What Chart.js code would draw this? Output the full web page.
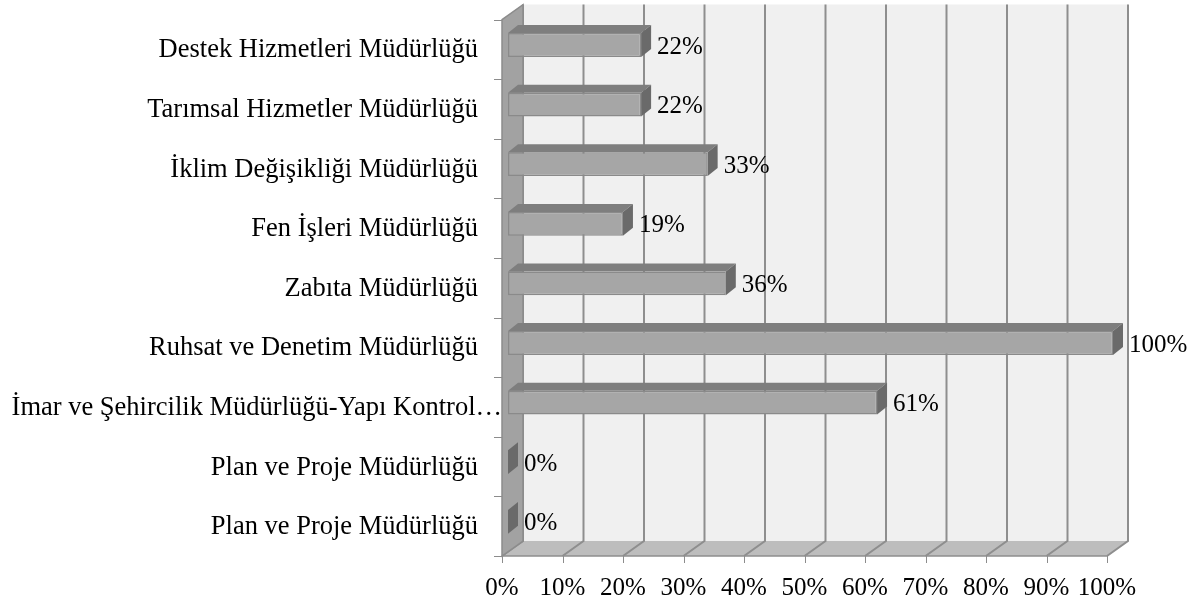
<!DOCTYPE html>
<html>
<head>
<meta charset="utf-8">
<script src="https://cdn.jsdelivr.net/npm/chart.js@4.4.1/dist/chart.umd.min.js"></script>
<style>
  body { margin: 0; background: #fff; }
  #wrap { width: 1201px; height: 608px; }
</style>
</head>
<body>
<div id="wrap"><canvas id="barChart" width="1201" height="608"></canvas></div>
<script>
const categories = [
    'Destek Hizmetleri Müdürlüğü',
    'Tarımsal Hizmetler Müdürlüğü',
    'İklim Değişikliği Müdürlüğü',
    'Fen İşleri Müdürlüğü',
    'Zabıta Müdürlüğü',
    'Ruhsat ve Denetim Müdürlüğü',
    'İmar ve Şehircilik Müdürlüğü-Yapı Kontrol…',
    'Plan ve Proje Müdürlüğü',
    'Plan ve Proje Müdürlüğü'
];
const percentValues = [22, 22, 33, 19, 36, 100, 61, 0, 0];
const tickValues = [0, 10, 20, 30, 40, 50, 60, 70, 80, 90, 100];

const FONT = '"Liberation Serif", "Times New Roman", serif';
// 3D offsets relative to the bar plane
const FRONT = { x: -6, y: 4.4 };
const BACK = { x: 15, y: -10.6 };
const BAR_DEPTH = { x: 10, y: -8 };

function poly(ctx, pts, fill, stroke, lw) {
    ctx.beginPath();
    ctx.moveTo(pts[0][0], pts[0][1]);
    for (let i = 1; i < pts.length; i++) ctx.lineTo(pts[i][0], pts[i][1]);
    ctx.closePath();
    if (fill) { ctx.fillStyle = fill; ctx.fill(); }
    if (stroke) { ctx.strokeStyle = stroke; ctx.lineWidth = lw || 1; ctx.stroke(); }
}

const box3d = {
    id: 'box3d',
    beforeDatasetsDraw(chart) {
        const ctx = chart.ctx;
        const xs = chart.scales.x;
        const area = chart.chartArea;
        const x0 = xs.getPixelForValue(tickValues[0]);
        const x1 = xs.getPixelForValue(tickValues[tickValues.length - 1]);
        ctx.save();
        // back wall
        poly(ctx, [
            [x0 + BACK.x, area.top + BACK.y], [x1 + BACK.x, area.top + BACK.y],
            [x1 + BACK.x, area.bottom + BACK.y], [x0 + BACK.x, area.bottom + BACK.y]
        ], '#f0f0f0');
        // floor
        poly(ctx, [
            [x0 + FRONT.x, area.bottom + FRONT.y], [x1 + FRONT.x, area.bottom + FRONT.y],
            [x1 + BACK.x, area.bottom + BACK.y], [x0 + BACK.x, area.bottom + BACK.y]
        ], '#bdbdbd');
        // grid lines on floor and back wall
        ctx.strokeStyle = '#8e8e8e';
        ctx.lineWidth = 2;
        tickValues.forEach(v => {
            const p = xs.getPixelForValue(v);
            ctx.beginPath();
            ctx.moveTo(p + FRONT.x, area.bottom + FRONT.y);
            ctx.lineTo(p + BACK.x, area.bottom + BACK.y);
            ctx.lineTo(p + BACK.x, area.top + BACK.y);
            ctx.stroke();
        });
        // floor front edge
        ctx.lineWidth = 1.5;
        ctx.beginPath();
        ctx.moveTo(x0 + FRONT.x, area.bottom + FRONT.y);
        ctx.lineTo(x1 + FRONT.x, area.bottom + FRONT.y);
        ctx.stroke();
        // left wall
        poly(ctx, [
            [x0 + FRONT.x, area.top + FRONT.y], [x0 + BACK.x, area.top + BACK.y],
            [x0 + BACK.x, area.bottom + BACK.y], [x0 + FRONT.x, area.bottom + FRONT.y]
        ], '#a2a2a2', '#8c8c8c', 1.5);
        ctx.restore();
    },
    afterDatasetsDraw(chart) {
        const ctx = chart.ctx;
        const meta = chart.getDatasetMeta(0);
        ctx.save();
        meta.data.forEach((bar, i) => {
            const p = bar.getProps(['x', 'y', 'base', 'height'], true);
            const xL = Math.min(p.x, p.base);
            const xR = Math.max(p.x, p.base);
            const yT = p.y - p.height / 2;
            const yB = p.y + p.height / 2;
            const dx = BAR_DEPTH.x, dy = BAR_DEPTH.y;
            // top face
            if (xR > xL) {
                poly(ctx, [[xL, yT], [xL + dx, yT + dy], [xR + dx, yT + dy], [xR, yT]], '#7e7e7e');
            }
            // side face
            poly(ctx, [[xR, yT], [xR + dx, yT + dy], [xR + dx, yB + dy], [xR, yB]], '#6a6a6a');
            // value label
            ctx.fillStyle = '#000';
            ctx.font = '25px ' + FONT;
            ctx.textAlign = 'left';
            ctx.textBaseline = 'middle';
            ctx.fillText(percentValues[i] + '%', xR + dx + 6, p.y + 2);
        });
        ctx.restore();
    },
    afterDraw(chart) {
        const ctx = chart.ctx;
        const ys = chart.scales.y;
        const xs = chart.scales.x;
        const area = chart.chartArea;
        const left = area.left;
        ctx.save();
        // y tick marks at the front plane
        ctx.strokeStyle = '#8c8c8c';
        ctx.lineWidth = 1;
        const step = (area.bottom - area.top) / categories.length;
        for (let k = 0; k <= categories.length; k++) {
            const y = Math.round(area.top + k * step + FRONT.y) + 0.5;
            ctx.beginPath();
            ctx.moveTo(left + FRONT.x - 8, y);
            ctx.lineTo(left + FRONT.x, y);
            ctx.stroke();
        }
        // x tick marks
        tickValues.forEach(v => {
            const x = Math.round(xs.getPixelForValue(v) + FRONT.x) + 0.5;
            ctx.beginPath();
            ctx.moveTo(x, area.bottom + FRONT.y);
            ctx.lineTo(x, area.bottom + FRONT.y + 7);
            ctx.stroke();
        });
        // category labels
        ctx.fillStyle = '#000';
        ctx.font = '26.5px ' + FONT;
        ctx.textAlign = 'right';
        ctx.textBaseline = 'middle';
        categories.forEach((label, i) => {
            const y = ys.getPixelForValue(i) + FRONT.y + 1;
            const w = ctx.measureText(label).width;
            let xr = left - 30;
            if (xr - w < 10) xr = left - 6;
            ctx.fillText(label, xr, y);
        });
        ctx.restore();
    }
};

new Chart(document.getElementById('barChart'), {
    type: 'bar',
    data: {
        labels: categories,
        datasets: [{
            data: percentValues,
            backgroundColor: '#a6a6a6',
            borderColor: '#8a8a8a',
            borderWidth: 1.5,
            borderSkipped: false,
            categoryPercentage: 1,
            barPercentage: 0.4
        }]
    },
    options: {
        indexAxis: 'y',
        responsive: false,
        animation: false,
        layout: { padding: { left: 508, right: 88, top: 15.2, bottom: 0 } },
        plugins: {
            legend: { display: false },
            tooltip: { enabled: false }
        },
        scales: {
            x: {
                min: 0,
                max: 100,
                afterBuildTicks: s => { s.ticks = tickValues.map(v => ({ value: v })); },
                afterFit: s => { s.height = 56.4; },
                grid: { display: false },
                border: { display: false },
                ticks: {
                    color: '#000',
                    font: { family: FONT, size: 25 },
                    padding: 14,
                    labelOffset: FRONT.x,
                    maxRotation: 0,
                    autoSkip: false,
                    callback: v => v + '%'
                }
            },
            y: {
                display: false
            }
        }
    },
    plugins: [box3d]
});
</script>
</body>
</html>
